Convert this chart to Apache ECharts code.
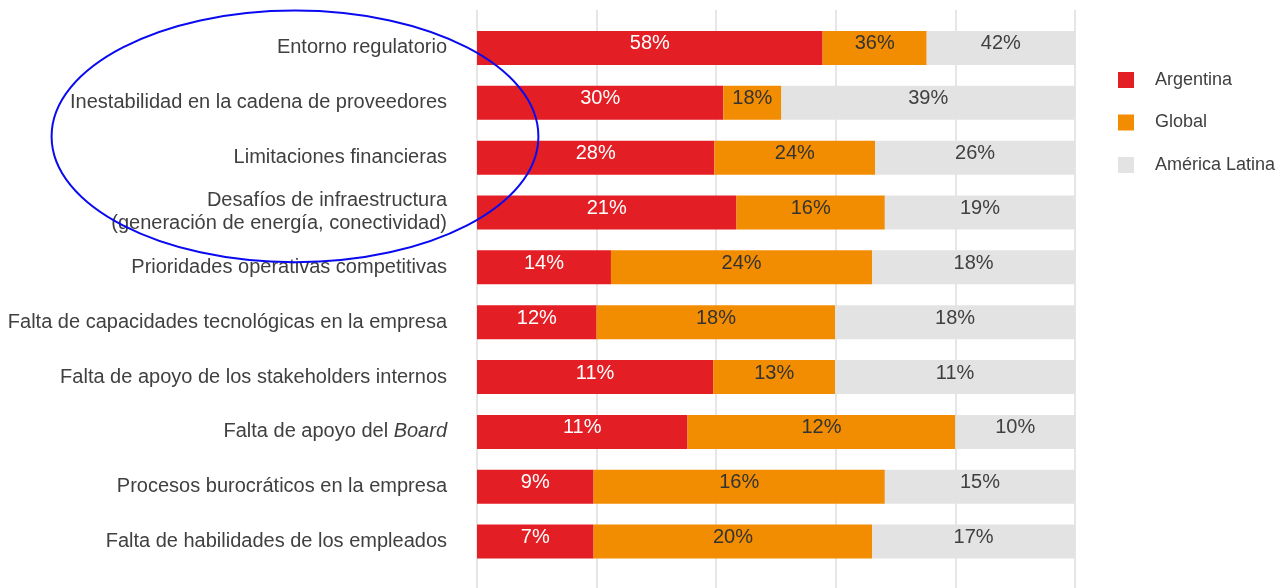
<!DOCTYPE html>
<html>
<head>
<meta charset="utf-8">
<script src="https://cdn.jsdelivr.net/npm/echarts@6/dist/echarts.min.js"></script>
<style>
  html, body { margin: 0; padding: 0; background: #ffffff; }
  #chart { width: 1281px; height: 588px; }
</style>
</head>
<body>
<div id="chart"></div>
<script>
// Categories (top to bottom)
const categories = [
  'Entorno regulatorio',
  'Inestabilidad en la cadena de proveedores',
  'Limitaciones financieras',
  'Desafíos de infraestructura\n(generación de energía, conectividad)',
  'Prioridades operativas competitivas',
  'Falta de capacidades tecnológicas en la empresa',
  'Falta de apoyo de los stakeholders internos',
  'Falta de apoyo del Board',
  'Procesos burocráticos en la empresa',
  'Falta de habilidades de los empleados'
];

// Printed percentages (labels shown on each segment)
const argentinaPct = [58, 30, 28, 21, 14, 12, 11, 11, 9, 7];
const globalPct    = [36, 18, 24, 16, 24, 18, 13, 12, 16, 20];
const latamPct     = [42, 39, 26, 19, 18, 18, 11, 10, 15, 17];

// Segment lengths as drawn in the picture (share of the full bar, 0-100)
const argentinaBar = [57.8, 41.2, 39.7, 43.4, 22.4, 20.0, 39.5, 35.2, 19.5, 19.5];
const globalBar    = [17.4,  9.7, 26.9, 24.8, 43.7, 39.9, 20.4, 44.8, 48.7, 46.6];
const latamBar     = [24.8, 49.1, 33.4, 31.8, 33.9, 40.1, 40.1, 20.0, 31.8, 33.9];

const seriesNames = ['Argentina', 'Global', 'América Latina'];

const FONT = "'Liberation Sans', Arial, sans-serif";
const RED = '#E31E24', ORANGE = '#F28C00', GRAY = '#E3E3E3';

function makeSeries(name, bars, pcts, color, labelColor) {
  return {
    name: name,
    type: 'bar',
    stack: 'total',
    xAxisIndex: 0,
    yAxisIndex: 0,
    barWidth: 34,
    itemStyle: { color: color },
    label: {
      show: true,
      position: 'inside',
      offset: [0, -4],
      color: labelColor,
      fontFamily: FONT,
      fontSize: 20,
      formatter: function (p) { return pcts[p.dataIndex] + '%'; }
    },
    emphasis: { disabled: true },
    data: bars
  };
}

const chart = echarts.init(document.getElementById('chart'), null, { renderer: 'canvas' });

const option = {
  animation: false,
  backgroundColor: '#ffffff',
  textStyle: { fontFamily: FONT },
  grid: [
    { left: 477, right: 206, top: 20.5, bottom: 19, containLabel: false },
    { left: 477, right: 206, top: 10, bottom: 0, containLabel: false }
  ],
  legend: {
    orient: 'vertical',
    left: 1113,
    top: 66,
    itemWidth: 16,
    itemHeight: 16,
    itemGap: 24.5,
    icon: 'rect',
    selectedMode: false,
    data: seriesNames,
    textStyle: {
      fontFamily: FONT,
      fontSize: 18,
      lineHeight: 16,
      color: '#404040',
      padding: [0, 0, 0, 16]
    }
  },
  xAxis: [
    {
      type: 'value', gridIndex: 0, min: 0, max: 100, interval: 20,
      axisLine: { show: false }, axisTick: { show: false },
      axisLabel: { show: false }, splitLine: { show: false }
    },
    {
      type: 'value', gridIndex: 1, min: 0, max: 100, interval: 20,
      axisLine: { show: false }, axisTick: { show: false },
      axisLabel: { show: false },
      splitLine: { show: true, lineStyle: { color: '#E6E6E6', width: 2 } }
    }
  ],
  yAxis: [
    {
      type: 'category', gridIndex: 0, inverse: true, data: categories,
      axisLine: { show: false }, axisTick: { show: false },
      splitLine: { show: false },
      axisLabel: {
        margin: 30,
        fontFamily: FONT,
        fontSize: 20,
        lineHeight: 23,
        color: '#404040',
        formatter: function (v) {
          if (v.endsWith(' Board')) {
            return '{t|' + v.slice(0, -5) + '}{i|Board}';
          }
          return v;
        },
        rich: {
          t: { fontFamily: FONT, fontSize: 20, color: '#404040' },
          i: { fontFamily: FONT, fontSize: 20, color: '#404040', fontStyle: 'italic' }
        }
      }
    },
    {
      type: 'category', gridIndex: 1, data: ['a'], show: false
    }
  ],
  series: [
    makeSeries(seriesNames[0], argentinaBar, argentinaPct, RED, '#FFFFFF'),
    makeSeries(seriesNames[1], globalBar, globalPct, ORANGE, '#333333'),
    makeSeries(seriesNames[2], latamBar, latamPct, GRAY, '#404040')
  ],
  graphic: [
    {
      type: 'ellipse',
      z: 100,
      silent: true,
      shape: { cx: 295, cy: 136.4, rx: 243.4, ry: 125.8 },
      style: { fill: 'none', stroke: '#0A0AF0', lineWidth: 2 }
    }
  ]
};

chart.setOption(option);
</script>
</body>
</html>
